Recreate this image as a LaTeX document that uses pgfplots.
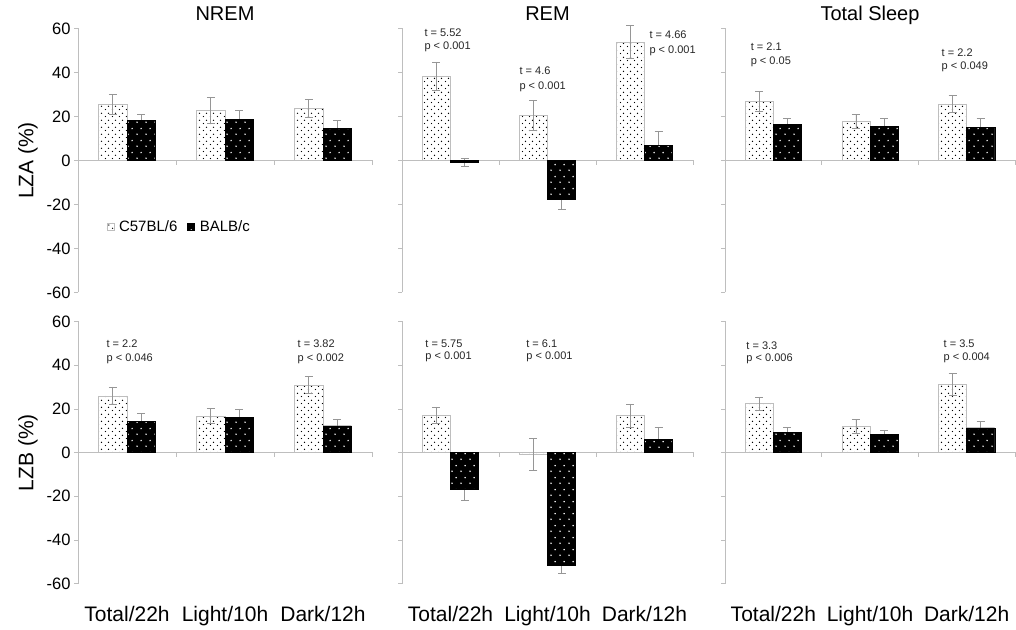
\documentclass[border=0pt]{standalone}
\usepackage{fontspec}
\setmainfont{Liberation Sans}
\usepackage{pgfplots}
\pgfplotsset{compat=1.18}
\usetikzlibrary{patterns.meta}

\tikzdeclarepattern{
  name=cdots, type=uncolored,
  bottom left={(0pt,0pt)}, top right={(6.5pt,7pt)}, tile size={(6.5pt,7pt)},
  code={\pgfpathcircle{\pgfqpoint{1.6pt}{1.75pt}}{0.75pt}\pgfpathcircle{\pgfqpoint{4.85pt}{5.25pt}}{0.75pt}\pgfusepath{fill}}
}
\tikzdeclarepattern{
  name=bdots, type=uncolored,
  bottom left={(0pt,0pt)}, top right={(9pt,12pt)}, tile size={(9pt,12pt)},
  code={\pgfpathcircle{\pgfqpoint{2.25pt}{3pt}}{0.9pt}\pgfpathcircle{\pgfqpoint{6.75pt}{9pt}}{0.9pt}\pgfusepath{fill}}
}

\definecolor{axgray}{RGB}{190,190,190}
\definecolor{errgray}{RGB}{150,150,150}

\pgfplotsset{
  panel/.style={
    scale only axis, height=264pt,
    xmin=-0.5, xmax=2.5, ymin=-60, ymax=60,
    axis y line*=left, axis x line*=bottom,
    x axis line style={draw=none},
    y axis line style={axgray, line width=0.6pt},
    ytick={-60,-40,-20,0,20,40,60},
    ytick style={axgray, line width=0.6pt},
    tick align=outside, major tick length=4pt,
    xtick={0,1,2}, xtick style={draw=none},
    xticklabels={}, yticklabels={},
    ybar=0pt, bar width=0.29,
    clip=false,
    /pgf/number format/assume math mode=true,
    yticklabel style={font=\fontsize{16.5}{20}\selectfont},
    xticklabel style={font=\fontsize{21}{24}\selectfont, anchor=base, yshift=-34pt},
    title style={font=\fontsize{20}{24}\selectfont, at={(0.5,1)}, anchor=base, yshift=1.5pt},
    ylabel style={font=\fontsize{21}{24}\selectfont, at={(axis description cs:-0.17,0.5)}, anchor=center},
    error bars/y dir=both, error bars/y explicit,
    error bars/error bar style={errgray, line width=0.6pt},
    error bars/error mark options={rotate=90, errgray, mark size=4pt, line width=0.6pt},
  },
  toprow/.style={height=264pt},
  botrow/.style={height=262pt},
  leftcol/.style={yticklabels={-60,-40,-20,0,20,40,60}},
  catlabels/.style={xticklabels={Total/22h, Light/10h, Dark/12h}},
  c57/.style={draw=axgray, fill=white, postaction={pattern=cdots, pattern color=black}, bar shift=-0.145},
  balb/.style={draw=black, fill=black, postaction={pattern=bdots, pattern color=white}, bar shift=0.145},
  balbtop/.style={draw=black, fill=black, postaction={pattern=bdots, pattern color=white}, bar shift=0.145, forget plot, error bars/y dir=none},
}

\newcommand\zeroline{%
  \draw[axgray, line width=0.6pt] (axis cs:-0.5,0) -- (axis cs:2.5,0);
  \draw[axgray, line width=0.6pt] (axis cs:0.5,0) -- ([yshift=-5pt]axis cs:0.5,0);
  \draw[axgray, line width=0.6pt] (axis cs:1.5,0) -- ([yshift=-5pt]axis cs:1.5,0);
  \draw[axgray, line width=0.6pt] (axis cs:2.5,0) -- ([yshift=-5pt]axis cs:2.5,0);
}
\newcommand\ann[5]{%
  \node[anchor=west, inner sep=0pt, font=\fontsize{11}{13}\selectfont, text=black!85] at (axis cs:#1,#2) {t = #3};
  \node[anchor=west, inner sep=0pt, font=\fontsize{11}{13}\selectfont, text=black!85] at (axis cs:#1,#4) {p < #5};
}

\begin{document}
\begin{tikzpicture}
\useasboundingbox (0,0) rectangle (1016pt,629pt);

% ---------- Top row: LZA ----------
\begin{axis}[panel, toprow, leftcol, width=294pt, at={(78pt,336.5pt)}, anchor=south west,
  title={NREM}, ylabel={LZA (\%)},
  legend style={at={(axis cs:-0.21,-30)}, anchor=west, draw=none, fill=none, legend columns=2,
    font=\fontsize{15}{18}\selectfont, inner sep=0pt,
    /tikz/every odd column/.append style={column sep=3pt},
    /tikz/every even column/.append style={column sep=8pt}},
  legend image code/.code={\draw[#1] (0pt,-3.5pt) rectangle (7pt,3.5pt);}]
\zeroline
\addplot[c57] coordinates {(0,25.5) +- (0,4.5) (1,22.7) +- (0,6.0) (2,23.6) +- (0,4.1)};
\addplot[balb] coordinates {(0,18.2) +- (0,2.8) (1,18.6) +- (0,4.1) (2,14.5) +- (0,3.7)};
\addplot[balbtop] coordinates {(0,18.2) (1,18.6) (2,14.5)};
\legend{C57BL/6, BALB/c}
\end{axis}

\begin{axis}[panel, toprow, width=291pt, at={(402pt,336.5pt)}, anchor=south west, title={REM}]
\zeroline
\addplot[c57] coordinates {(0,38.3) +- (0,6.5) (1,20.5) +- (0,6.8) (2,53.8) +- (0,7.5)};
\addplot[balb] coordinates {(0,-0.8) +- (0,1.8) (1,-17.7) +- (0,4.6) (2,6.8) +- (0,6.5)};
\addplot[balbtop] coordinates {(0,-0.8) (1,-17.7) (2,6.8)};
\ann{-0.27}{58}{5.52}{51.5}{0.001}
\ann{0.71}{40.6}{4.6}{33.5}{0.001}
\ann{2.05}{57}{4.66}{50}{0.001}
\end{axis}

\begin{axis}[panel, toprow, width=290pt, at={(725pt,336.5pt)}, anchor=south west, title={Total Sleep}]
\zeroline
\addplot[c57] coordinates {(0,27.0) +- (0,4.5) (1,17.7) +- (0,3.1) (2,25.8) +- (0,3.7)};
\addplot[balb] coordinates {(0,16.3) +- (0,2.7) (1,15.5) +- (0,3.7) (2,15.2) +- (0,4.0)};
\addplot[balbtop] coordinates {(0,16.3) (1,15.5) (2,15.2)};
\ann{-0.235}{51.9}{2.1}{44.7}{0.05}
\ann{1.74}{48.8}{2.2}{42.7}{0.049}
\end{axis}

% ---------- Bottom row: LZB ----------
\begin{axis}[panel, botrow, leftcol, catlabels, width=294pt, at={(78pt,45.5pt)}, anchor=south west,
  ylabel={LZB (\%)}]
\zeroline
\addplot[c57] coordinates {(0,26.0) +- (0,4.0) (1,16.8) +- (0,3.5) (2,31.0) +- (0,3.9)};
\addplot[balb] coordinates {(0,14.2) +- (0,3.7) (1,16.2) +- (0,3.8) (2,12.2) +- (0,3.1)};
\addplot[balbtop] coordinates {(0,14.2) (1,16.2) (2,12.2)};
\ann{-0.21}{50}{2.2}{43}{0.046}
\ann{1.74}{50}{3.82}{43}{0.002}
\end{axis}

\begin{axis}[panel, botrow, catlabels, width=291pt, at={(402pt,45.5pt)}, anchor=south west]
\zeroline
\addplot[c57] coordinates {(0,17.1) +- (0,3.8) (1,-1.0) +- (0,7.3) (2,16.9) +- (0,5.4)};
\addplot[balb] coordinates {(0,-16.8) +- (0,5.0) (1,-51.5) +- (0,3.7) (2,5.9) +- (0,5.6)};
\addplot[balbtop] coordinates {(0,-16.8) (1,-51.5) (2,5.9)};
\ann{-0.26}{50}{5.75}{43.6}{0.001}
\ann{0.78}{50}{6.1}{43.6}{0.001}
\end{axis}

\begin{axis}[panel, botrow, catlabels, width=290pt, at={(725pt,45.5pt)}, anchor=south west]
\zeroline
\addplot[c57] coordinates {(0,22.5) +- (0,3.0) (1,11.9) +- (0,3.2) (2,31.3) +- (0,5.1)};
\addplot[balb] coordinates {(0,9.3) +- (0,2.3) (1,8.3) +- (0,1.8) (2,11.3) +- (0,3.1)};
\addplot[balbtop] coordinates {(0,9.3) (1,8.3) (2,11.3)};
\ann{-0.28}{49}{3.3}{42.7}{0.006}
\ann{1.76}{50}{3.5}{43.4}{0.004}
\end{axis}
\end{tikzpicture}
\end{document}
